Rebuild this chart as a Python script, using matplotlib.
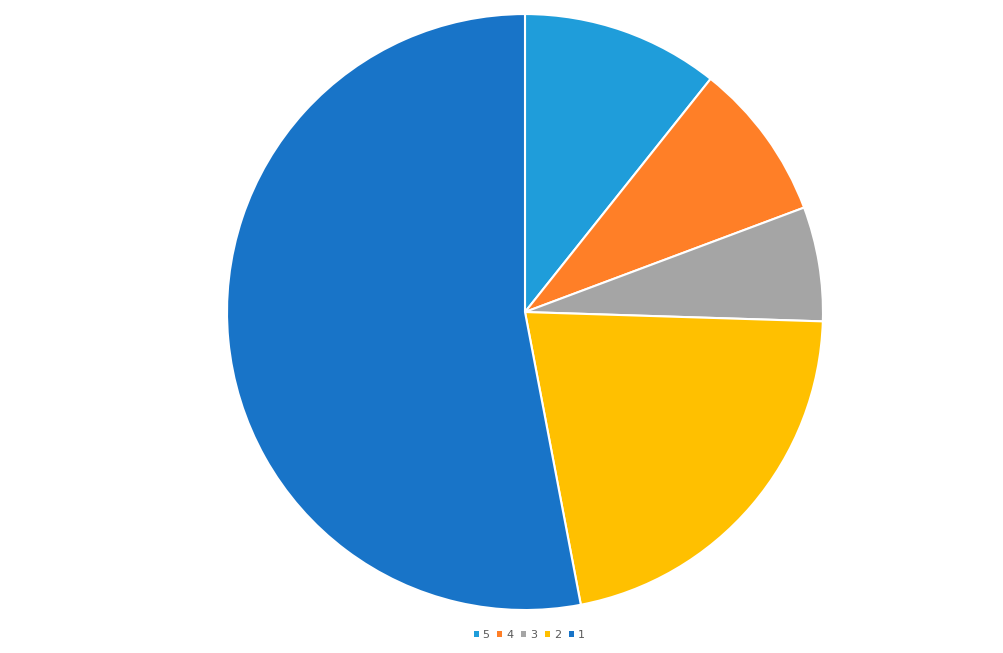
import matplotlib.pyplot as plt
from matplotlib.patches import Patch

# slice data, clockwise from 12 o'clock
labels = ["5", "4", "3", "2", "1"]
values = [10.7, 8.6, 6.2, 21.5, 53.0]
colors = ["#1F9DDA", "#FF7F27", "#A5A5A5", "#FFC000", "#1874C8"]

fig = plt.figure(figsize=(10.04, 6.53), dpi=100)
ax = fig.add_axes([0.2261, 0.0658, 0.5936, 0.9127])

ax.pie(values, colors=colors, startangle=90, counterclock=False, radius=1,
       wedgeprops=dict(edgecolor="white", linewidth=1.5))
ax.set_xlim(-1.0, 1.0)
ax.set_ylim(-1.0, 1.0)
ax.set_aspect("equal")
ax.axis("off")

handles = [Patch(facecolor=c, edgecolor="none") for c in colors]
fig.legend(handles, labels, loc="center", bbox_to_anchor=(0.527, 0.027), ncol=5,
           frameon=False, fontsize=8, handlelength=0.45, handleheight=0.45,
           handletextpad=0.35, columnspacing=0.7, labelcolor="#595959")

fig.savefig("out.png", dpi=100)
